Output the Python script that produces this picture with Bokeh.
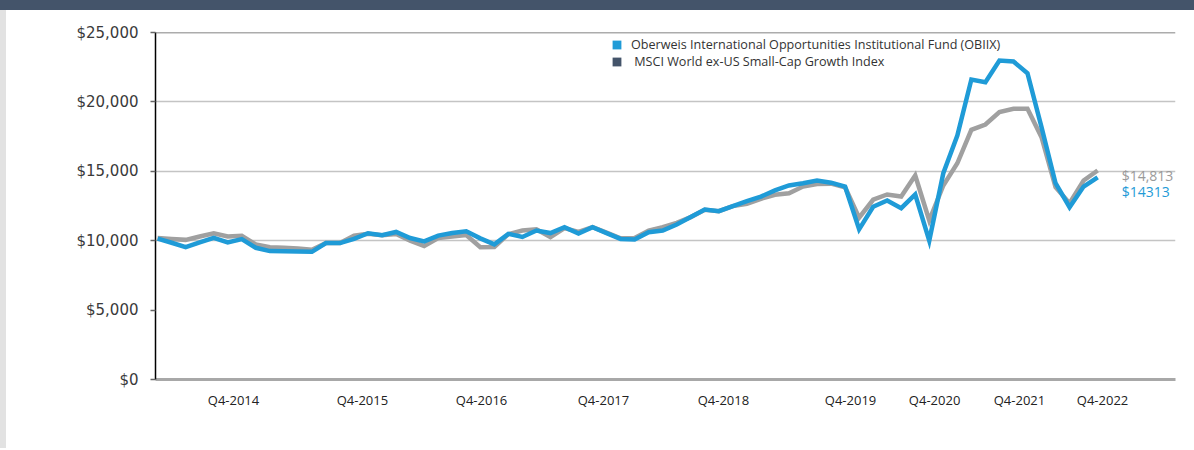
from bokeh.plotting import figure
from bokeh.models import (FixedTicker, NumeralTickFormatter, Span, Label, Legend,
                          LegendItem, Range1d, Div)
from bokeh.layouts import column, row
from bokeh.embed import file_html
from bokeh.resources import INLINE

# ---- data (growth of $10,000) ----
fund = [10150, 9850, 9530, 9880, 10200, 9870, 10110, 9490, 9250, 9240,
        9220, 9200, 9830, 9830, 10130, 10540, 10400, 10630, 10190, 9950,
        10370, 10550, 10680, 10170, 9740, 10490, 10270, 10730, 10550, 10970,
        10510, 10970, 10550, 10130, 10090, 10610, 10730, 11170, 11700, 12250,
        12130, 12490, 12850, 13180, 13620, 13980, 14140, 14340, 14180, 13900,
        10820, 12450, 12900, 12340, 13330, 10010, 14860, 17580, 21610, 21420,
        22980, 22910, 22070, 18180, 14140, 12410, 13900, 14570]
index = [10200, 10130, 10060, 10300, 10540, 10300, 10350, 9730, 9530, 9500,
         9430, 9340, 9830, 9830, 10370, 10500, 10400, 10490, 10010, 9620,
         10190, 10310, 10410, 9530, 9550, 10470, 10730, 10820, 10250, 10910,
         10640, 10980, 10580, 10170, 10200, 10730, 10970, 11290, 11700, 12230,
         12130, 12490, 12650, 13020, 13310, 13420, 13900, 14090, 14110, 13850,
         11660, 12950, 13330, 13180, 14700, 11460, 13980, 15580, 17990, 18370,
         19260, 19500, 19500, 17460, 13850, 12700, 14340, 15060]
tick_labels = ["Q4-2014", "Q4-2015", "Q4-2016", "Q4-2017", "Q4-2018",
               "Q4-2019", "Q4-2020", "Q4-2021", "Q4-2022"]
tick_pos = [5.41, 14.60, 23.09, 31.78, 40.33, 49.39, 55.38, 61.43, 67.35]
y_ticks = [0, 5000, 10000, 15000, 20000, 25000]
grid_values = [10000, 15000, 20000]
fund_name = "Oberweis International Opportunities Institutional Fund (OBIIX)"
index_name = " MSCI World ex-US Small-Cap Growth Index"
fund_end_label = "$14313"
index_end_label = "$14,813"

BLUE = "#1f9bd7"
GRAY = "#a0a0a0"
SLATE = "#44546a"

x = list(range(len(fund)))
nan = float("nan")

p = figure(width=1186, height=438, output_backend="svg", toolbar_location=None,
           x_range=Range1d(-0.15, 72.55), y_range=Range1d(0, 25000),
           min_border_left=149, min_border_right=17, min_border_top=22,
           min_border_bottom=69)
p.outline_line_color = None
p.background_fill_color = "white"
p.border_fill_color = "white"

p.xgrid.visible = False
p.ygrid.ticker = FixedTicker(ticks=grid_values)
p.ygrid.grid_line_color = "#c4c4c4"
p.ygrid.grid_line_width = 1.5

p.add_layout(Span(location=25000, dimension="width", line_color="#5a5a5a",
                  line_width=1.5))

p.line(x, index, line_color=GRAY, line_width=4.5, line_join="miter")
p.line(x, fund, line_color=BLUE, line_width=4.5, line_join="miter")

# legend (square swatches)
r1 = p.quad(left=[nan], right=[nan], top=[nan], bottom=[nan],
            fill_color=BLUE, line_color=None)
r2 = p.quad(left=[nan], right=[nan], top=[nan], bottom=[nan],
            fill_color=SLATE, line_color=None)
legend = Legend(items=[LegendItem(label=fund_name, renderers=[r1]),
                       LegendItem(label=index_name, renderers=[r2])],
                location=(456, 309), background_fill_alpha=0,
                border_line_color=None, padding=0, margin=0, spacing=0,
                label_height=17, glyph_height=11, glyph_width=11,
                label_standoff=9, label_text_font="Open Sans",
                label_text_font_size="12.6px", label_text_color="#333333")
p.add_layout(legend)

# end labels
p.add_layout(Label(x=len(index) - 1, y=index[-1], x_offset=24, y_offset=-5,
                   text=index_end_label, text_baseline="middle",
                   text_font="Open Sans", text_font_size="14px",
                   text_color="#9a9a9a"))
p.add_layout(Label(x=len(fund) - 1, y=fund[-1], x_offset=24, y_offset=-14,
                   text=fund_end_label, text_baseline="middle",
                   text_font="Open Sans", text_font_size="14px",
                   text_color=BLUE))

# y axis
yax = p.yaxis[0]
yax.ticker = FixedTicker(ticks=y_ticks)
yax.formatter = NumeralTickFormatter(format="$0,0")
yax.axis_line_color = "black"
yax.axis_line_width = 1.5
yax.major_tick_line_color = "#666666"
yax.major_tick_line_width = 1.5
yax.major_tick_out = 5
yax.major_tick_in = 0
yax.minor_tick_line_color = None
yax.major_label_standoff = 12
yax.major_label_text_font = "DejaVu Sans"
yax.major_label_text_font_size = "15px"
yax.major_label_text_color = "#3a3a3a"

# x axis
xax = p.xaxis[0]
xax.ticker = FixedTicker(ticks=tick_pos)
xax.major_label_overrides = {pos: lab for pos, lab in zip(tick_pos, tick_labels)}
xax.axis_line_color = "#a8a8a8"
xax.axis_line_width = 3
xax.major_tick_line_color = None
xax.minor_tick_line_color = None
xax.major_tick_out = 0
xax.major_tick_in = 0
xax.major_label_standoff = 11
xax.major_label_text_font = "Open Sans"
xax.major_label_text_font_size = "13px"
xax.major_label_text_color = "#222222"

bar = Div(text="", width=1194, height=10, margin=0,
          styles={"background-color": SLATE})
strip = Div(text="", width=6, height=438, margin=0,
            styles={"background-color": "#e2e2e2"})
layout = column(bar, row(strip, p, spacing=0), spacing=0)

open("out.html", "w").write(file_html(layout, INLINE))
